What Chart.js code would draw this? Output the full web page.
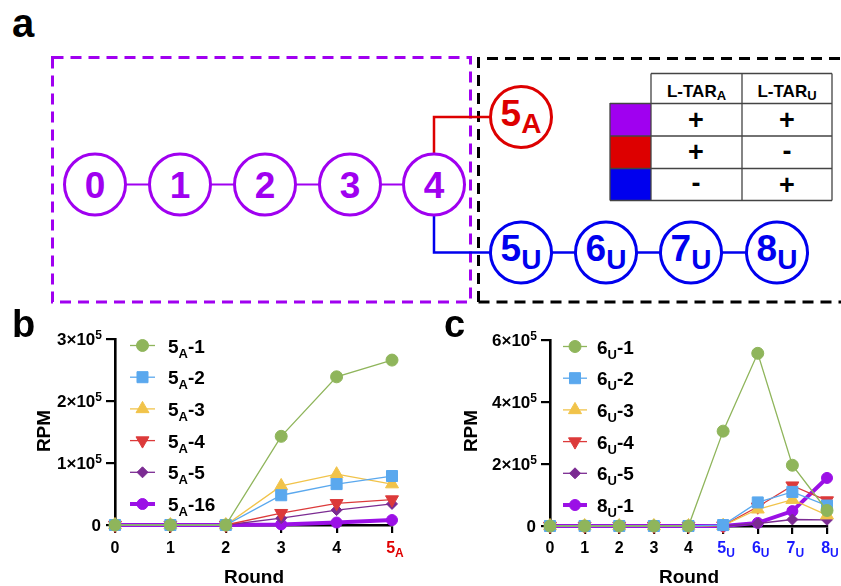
<!DOCTYPE html>
<html><head><meta charset="utf-8">
<script src="https://cdn.jsdelivr.net/npm/chart.js@4.4.1/dist/chart.umd.min.js"></script>
<style>
html,body{margin:0;padding:0;background:#fff;}
#wrap{position:relative;width:841px;height:586px;overflow:hidden;background:#fff;font-family:"Liberation Sans",Arial,sans-serif;}
svg text{font-family:"Liberation Sans",Arial,sans-serif;font-weight:bold;}
canvas{position:absolute;}
</style></head>
<body><div id="wrap">
<svg width="841" height="310" style="position:absolute;left:0;top:0">
  <text x="12" y="37" font-size="40">a</text>
  <rect x="52.5" y="57.5" width="418" height="244.5" fill="none" stroke="#a000f0" stroke-width="3" stroke-dasharray="11 7"/>
  <path d="M478.5 302 L478.5 58.5 L845 58.5 M478.5 302 L845 302" fill="none" stroke="#000" stroke-width="3" stroke-dasharray="11 7"/>
  <line x1="95" y1="184.5" x2="434" y2="184.5" stroke="#a000f0" stroke-width="2.2"/>
  <polyline points="434,154 434,117 491,117" fill="none" stroke="#dd0000" stroke-width="2.5"/>
  <polyline points="434,215 434,252.5 776,252.5" fill="none" stroke="#0000ee" stroke-width="2.5"/>
  <g fill="#fff" stroke="#a000f0" stroke-width="3">
    <circle cx="95" cy="184.5" r="30.5"/><circle cx="180" cy="184.5" r="30.5"/><circle cx="265" cy="184.5" r="30.5"/><circle cx="350" cy="184.5" r="30.5"/><circle cx="434" cy="184.5" r="30.5"/>
  </g>
  <g fill="#a000f0" font-size="37" text-anchor="middle">
    <text x="95" y="198">0</text><text x="180" y="198">1</text><text x="265" y="198">2</text><text x="350" y="198">3</text><text x="434" y="198">4</text>
  </g>
  <circle cx="521" cy="117" r="30.5" fill="#fff" stroke="#dd0000" stroke-width="3"/>
  <text x="521" y="125.5" font-size="37" fill="#dd0000" text-anchor="middle">5<tspan font-size="28" dy="7.5">A</tspan></text>
  <g fill="#fff" stroke="#0000ee" stroke-width="3">
    <circle cx="521" cy="252.5" r="30.5"/><circle cx="606" cy="252.5" r="30.5"/><circle cx="691" cy="252.5" r="30.5"/><circle cx="777" cy="252.5" r="30.5"/>
  </g>
  <g fill="#0000ee" font-size="37" text-anchor="middle">
    <text x="521" y="261">5<tspan font-size="28" dy="7.5">U</tspan></text>
    <text x="606" y="261">6<tspan font-size="28" dy="7.5">U</tspan></text>
    <text x="691" y="261">7<tspan font-size="28" dy="7.5">U</tspan></text>
    <text x="777" y="261">8<tspan font-size="28" dy="7.5">U</tspan></text>
  </g>
  <rect x="610" y="103" width="41" height="33" fill="#a000f0"/>
  <rect x="610" y="136" width="41" height="32.5" fill="#dd0000"/>
  <rect x="610" y="168.5" width="41" height="32" fill="#0000ee"/>
  <g stroke="#444" stroke-width="1.3" fill="none">
    <path d="M651 73.5 H832 M610 103.5 H832 M610 136 H832 M610 168.5 H832 M610 200.5 H832"/>
    <path d="M610 103 V200.5 M651 73.5 V200.5 M742 73.5 V200.5 M832 73.5 V200.5"/>
  </g>
  <g font-size="17" text-anchor="middle" fill="#000">
    <text x="696.5" y="97">L-TAR<tspan font-size="13" dy="3">A</tspan></text>
    <text x="787" y="97">L-TAR<tspan font-size="13" dy="3">U</tspan></text>
  </g>
  <g font-size="27" text-anchor="middle" fill="#000">
    <text x="696" y="129">+</text><text x="787" y="129">+</text>
    <text x="696" y="161">+</text><text x="787" y="159.5">-</text>
    <text x="696" y="192">-</text><text x="787" y="193.5">+</text>
  </g>
</svg>
<canvas id="cb" width="420" height="286" style="left:0;top:300px"></canvas>
<canvas id="cc" width="421" height="286" style="left:420px;top:300px"></canvas>
</div>
<script>
// ---- data ----
const roundsB = [0, 1, 2, 3, 4, 5];
const tickMainB = ['0', '1', '2', '3', '4', '5'];
const tickSubB = ['', '', '', '', '', 'A'];
const yTicksB = [0, 100000, 200000, 300000];
const yTickMainB = ['0', '1×10', '2×10', '3×10'];
const b5A1 = [0, 0, 0, 143000, 239000, 266000];
const b5A2 = [0, 0, 0, 48000, 66000, 79000];
const b5A3 = [0, 0, 0, 63000, 82000, 66000];
const b5A4 = [0, 0, 0, 19000, 35000, 41000];
const b5A5 = [0, 0, 0, 11000, 24000, 34000];
const b5A16 = [0, 0, 0, 1000, 4000, 8000];
const legendB = [['5', 'A', '-1'], ['5', 'A', '-2'], ['5', 'A', '-3'], ['5', 'A', '-4'], ['5', 'A', '-5'], ['5', 'A', '-16']];

const roundsC = [0, 1, 2, 3, 4, 5, 6, 7, 8];
const tickMainC = ['0', '1', '2', '3', '4', '5', '6', '7', '8'];
const tickSubC = ['', '', '', '', '', 'U', 'U', 'U', 'U'];
const yTicksC = [0, 200000, 400000, 600000];
const yTickMainC = ['0', '2×10', '4×10', '6×10'];
const c6U1 = [0, 0, 0, 0, 0, 306000, 557000, 196000, 50000];
const c6U2 = [0, 0, 0, 0, 0, 3000, 76000, 110000, 66000];
const c6U3 = [0, 0, 0, 0, 0, 1000, 54000, 85000, 35000];
const c6U4 = [0, 0, 0, 0, 0, 1000, 62000, 130000, 82000];
const c6U5 = [0, 0, 0, 0, 0, 0, 8000, 21000, 20000];
const c8U1 = [0, 0, 0, 0, 0, 0, 10000, 48000, 155000];
const legendC = [['6', 'U', '-1'], ['6', 'U', '-2'], ['6', 'U', '-3'], ['6', 'U', '-4'], ['6', 'U', '-5'], ['8', 'U', '-1']];

// ---- styles ----
const FONT = '"Liberation Sans", Arial, sans-serif';
const styles = [
  {color: '#8fb55b', point: 'circle', r: 6, w: 1.3, rot: 0},
  {color: '#5aa8ee', point: 'rect', r: 7.8, w: 1.3, rot: 0},
  {color: '#f1c34a', point: 'triangle', r: 7.5, w: 1.3, rot: 0},
  {color: '#dc3a3a', point: 'triangle', r: 7.5, w: 1.3, rot: 180},
  {color: '#7b2b92', point: 'rectRot', r: 5.5, w: 1.3, rot: 0},
  {color: '#9b10e6', point: 'circle', r: 5.5, w: 4, rot: 0}
];

function rich(ctx, parts, x, y, align) {
  let w = 0;
  parts.forEach(p => { ctx.font = 'bold ' + p.s + 'px ' + FONT; p.w = ctx.measureText(p.t).width; w += p.w; });
  let cx = align === 'center' ? x - w / 2 : (align === 'right' ? x - w : x);
  ctx.textAlign = 'left'; ctx.textBaseline = 'alphabetic';
  parts.forEach(p => { ctx.font = 'bold ' + p.s + 'px ' + FONT; ctx.fillStyle = p.c || '#000'; ctx.fillText(p.t, cx, y + (p.dy || 0)); cx += p.w; });
}

function marker(ctx, st, x, y) {
  const r = st.r;
  ctx.save();
  ctx.fillStyle = st.color; ctx.strokeStyle = st.color; ctx.lineWidth = 1;
  ctx.beginPath();
  if (st.point === 'circle') { ctx.arc(x, y, r, 0, Math.PI * 2); }
  else if (st.point === 'rect') { const s = r * Math.SQRT1_2; ctx.rect(x - s, y - s, 2 * s, 2 * s); }
  else if (st.point === 'rectRot') { ctx.moveTo(x, y - r); ctx.lineTo(x + r, y); ctx.lineTo(x, y + r); ctx.lineTo(x - r, y); ctx.closePath(); }
  else if (st.point === 'triangle') {
    let a = st.rot * Math.PI / 180;
    for (let i = 0; i < 3; i++) { const px = x + Math.sin(a) * r, py = y - Math.cos(a) * r; if (i === 0) ctx.moveTo(px, py); else ctx.lineTo(px, py); a += 2 * Math.PI / 3; }
    ctx.closePath();
  }
  ctx.fill(); ctx.stroke();
  ctx.restore();
}

function makeChart(id, cfg) {
  const datasets = cfg.series.map((vals, i) => {
    const st = styles[i];
    return {
      data: cfg.rounds.map((x, j) => ({x: x, y: vals[j]})),
      borderColor: st.color, backgroundColor: st.color, borderWidth: st.w,
      pointStyle: st.point, pointRadius: st.r, pointRotation: st.rot,
      pointBackgroundColor: st.color, pointBorderColor: st.color, pointBorderWidth: 1,
      tension: 0, clip: false
    };
  });
  const labelPlugin = {
    id: 'labels',
    afterDraw(chart) {
      const ctx = chart.ctx, xs = chart.scales.x, ys = chart.scales.y;
      cfg.yTicks.forEach((v, i) => {
        const py = ys.getPixelForValue(v);
        if (i === 0) rich(ctx, [{t: '0', s: 17}], cfg.yLabRight - 1, py + 6, 'right');
        else rich(ctx, [{t: cfg.yTickMain[i], s: 17}, {t: '5', s: 12, dy: -6.5}], cfg.yLabRight, py + 6, 'right');
      });
      cfg.rounds.forEach((v, i) => {
        const px = xs.getPixelForValue(v);
        const col = cfg.tickSub[i] ? cfg.subColor : '#000';
        const parts = [{t: cfg.tickMain[i], s: 16, c: col}];
        if (cfg.tickSub[i]) parts.push({t: cfg.tickSub[i], s: 12, dy: 4, c: col});
        rich(ctx, parts, px + (cfg.tickSub[i] ? 3 : 0), 253, 'center');
      });
      ctx.save();
      ctx.translate(cfg.rpmX, 131); ctx.rotate(-Math.PI / 2);
      rich(ctx, [{t: 'RPM', s: 19}], 0, 7, 'center');
      ctx.restore();
      rich(ctx, [{t: 'Round', s: 19}], cfg.roundX, 283, 'center');
      cfg.legend.forEach((lab, i) => {
        const st = styles[i];
        const y = cfg.legTop + i * 31.7;
        ctx.save();
        ctx.strokeStyle = st.color; ctx.lineWidth = st.w;
        ctx.beginPath(); ctx.moveTo(cfg.legX1, y); ctx.lineTo(cfg.legX2, y); ctx.stroke();
        ctx.restore();
        marker(ctx, st, (cfg.legX1 + cfg.legX2) / 2, y);
        rich(ctx, [{t: lab[0], s: 19}, {t: lab[1], s: 13, dy: 5}, {t: lab[2], s: 19}], cfg.legText, y + 7, 'left');
      });
      rich(ctx, [{t: cfg.letter, s: 38}], cfg.letterX, 37, 'left');
    }
  };
  return new Chart(document.getElementById(id), {
    type: 'line',
    data: {datasets: datasets},
    options: {
      responsive: false, animation: false, devicePixelRatio: 1,
      layout: {padding: {top: cfg.padTop, right: cfg.padRight, left: 0, bottom: 0}},
      plugins: {legend: {display: false}, tooltip: {enabled: false}},
      scales: {
        x: {
          type: 'linear', min: 0, max: cfg.rounds[cfg.rounds.length - 1],
          afterBuildTicks(s) { s.ticks = cfg.rounds.map(v => ({value: v})); },
          afterFit(s) { s.height = cfg.xh; },
          ticks: {display: false},
          grid: {display: true, drawOnChartArea: false, drawTicks: true, tickLength: 8, color: '#000', lineWidth: 2.2},
          border: {display: true, color: '#000', width: 2.6}
        },
        y: {
          type: 'linear', min: 0, max: cfg.yTicks[cfg.yTicks.length - 1],
          afterBuildTicks(s) { s.ticks = cfg.yTicks.map(v => ({value: v})); },
          afterFit(s) { s.width = cfg.yw; },
          ticks: {display: false},
          grid: {display: true, drawOnChartArea: false, drawTicks: true, tickLength: 9, color: '#000', lineWidth: 2.2},
          border: {display: true, color: '#000', width: 2.6}
        }
      }
    },
    plugins: [labelPlugin]
  });
}

makeChart('cb', {
  rounds: roundsB, tickMain: tickMainB, tickSub: tickSubB, subColor: '#e00000',
  yTicks: yTicksB, yTickMain: yTickMainB,
  series: [b5A1, b5A2, b5A3, b5A4, b5A5, b5A16], legend: legendB,
  padTop: 39, padRight: 28, xh: 61, yw: 115, yLabRight: 102,
  rpmX: 43, roundX: 254, legX1: 130, legX2: 155, legText: 168, legTop: 45.5,
  letter: 'b', letterX: 12
});
makeChart('cc', {
  rounds: roundsC, tickMain: tickMainC, tickSub: tickSubC, subColor: '#1a1aff',
  yTicks: yTicksC, yTickMain: yTickMainC,
  series: [c6U1, c6U2, c6U3, c6U4, c6U5, c8U1], legend: legendC,
  padTop: 40, padRight: 14, xh: 60, yw: 130, yLabRight: 117,
  rpmX: 50, roundX: 269, legX1: 143, legX2: 167, legText: 177, legTop: 46.5,
  letter: 'c', letterX: 24
});
</script>
</body></html>
